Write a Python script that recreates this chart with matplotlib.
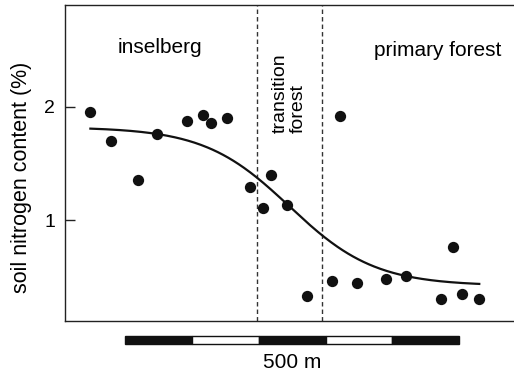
import numpy as np
import matplotlib
matplotlib.use("Agg")
import matplotlib.pyplot as plt
from matplotlib.patches import Rectangle
from matplotlib.transforms import blended_transform_factory

plt.rcParams["font.family"] = ["Liberation Sans", "DejaVu Sans"]

# Sampling positions along the transect (m) and measured soil N (%)
distance_m = [38, 69, 110, 138, 183, 207, 218, 242,
              277, 296, 308, 332,
              362, 400, 411, 437, 481, 510, 562, 581, 594, 620]
nitrogen_pct = [1.95, 1.70, 1.35, 1.76, 1.87, 1.93, 1.86, 1.90,
                1.29, 1.11, 1.40, 1.135,
                0.33, 0.46, 1.92, 0.44, 0.48, 0.51, 0.30, 0.76, 0.35, 0.30]

# Logistic regression fit: lower + (upper - lower) / (1 + exp((x - mid) / scale))
fit_upper = 1.82
fit_lower = 0.42
fit_mid = 336
fit_scale = 64

# Vegetation zone boundaries (m) and labels
zone_bounds = [288, 384]
zone_names = ["inselberg", "transition\nforest", "primary forest"]

y_ticks = [1, 2]

# Scale bar: start (m) and alternating 100 m segments
scale_start = 90
scale_segments = [100, 100, 100, 100, 100]
scale_colors = ["#111111", "white", "#111111", "white", "#111111"]
scale_label = "500 m"

fig = plt.figure(figsize=(5.14, 3.73), dpi=100)
W, H = 514, 373
ax = fig.add_axes([65 / W, 1 - 321 / H, 1 - 65 / W, (321 - 5) / H])

ax.set_xlim(0, 672)
ax.set_ylim(0.109, 2.898)

ax.scatter(distance_m, nitrogen_pct, s=66, color="#111111", zorder=3, linewidths=0)

xs = np.linspace(min(distance_m), max(distance_m), 300)
ys = fit_lower + (fit_upper - fit_lower) / (1 + np.exp((xs - fit_mid) / fit_scale))
ax.plot(xs, ys, color="#111111", lw=1.6, zorder=2)

for xb in zone_bounds:
    ax.axvline(xb, color="#333333", lw=1.0, dashes=(3.2, 2.2), zorder=1)

ax.text(142, 2.52, zone_names[0], fontsize=15, ha="center", va="center")
ax.text(336, 1.77, zone_names[1], fontsize=14, ha="center", va="bottom",
        rotation=90, multialignment="left", linespacing=1.05)
ax.text(558, 2.50, zone_names[2], fontsize=15, ha="center", va="center")

ax.set_xticks([])
ax.set_yticks(y_ticks)
ax.set_yticklabels([str(t) for t in y_ticks])
ax.tick_params(axis="y", direction="in", length=7.5, width=1, pad=7,
               labelsize=14, color="#222222")
for side in ("left", "top", "bottom"):
    ax.spines[side].set_color("#222222")
    ax.spines[side].set_linewidth(1.0)
ax.spines["right"].set_visible(False)

fig.text(21.5 / W, 1 - 177 / H, "soil nitrogen content (%)", fontsize=15.5,
         rotation=90, ha="center", va="center")

# Scale bar below the axes
trans = blended_transform_factory(ax.transData, fig.transFigure)
y0 = 1 - 344 / H
hgt = 8 / H
x = scale_start
for seg, col in zip(scale_segments, scale_colors):
    ax.add_patch(Rectangle((x, y0), seg, hgt, transform=trans, facecolor=col,
                           edgecolor="#111111", lw=1.0, clip_on=False))
    x += seg
ax.text(scale_start + sum(scale_segments) / 2, 1 - 362 / H, scale_label,
        transform=trans, fontsize=15, ha="center", va="center")

fig.savefig("out.png", dpi=100)
